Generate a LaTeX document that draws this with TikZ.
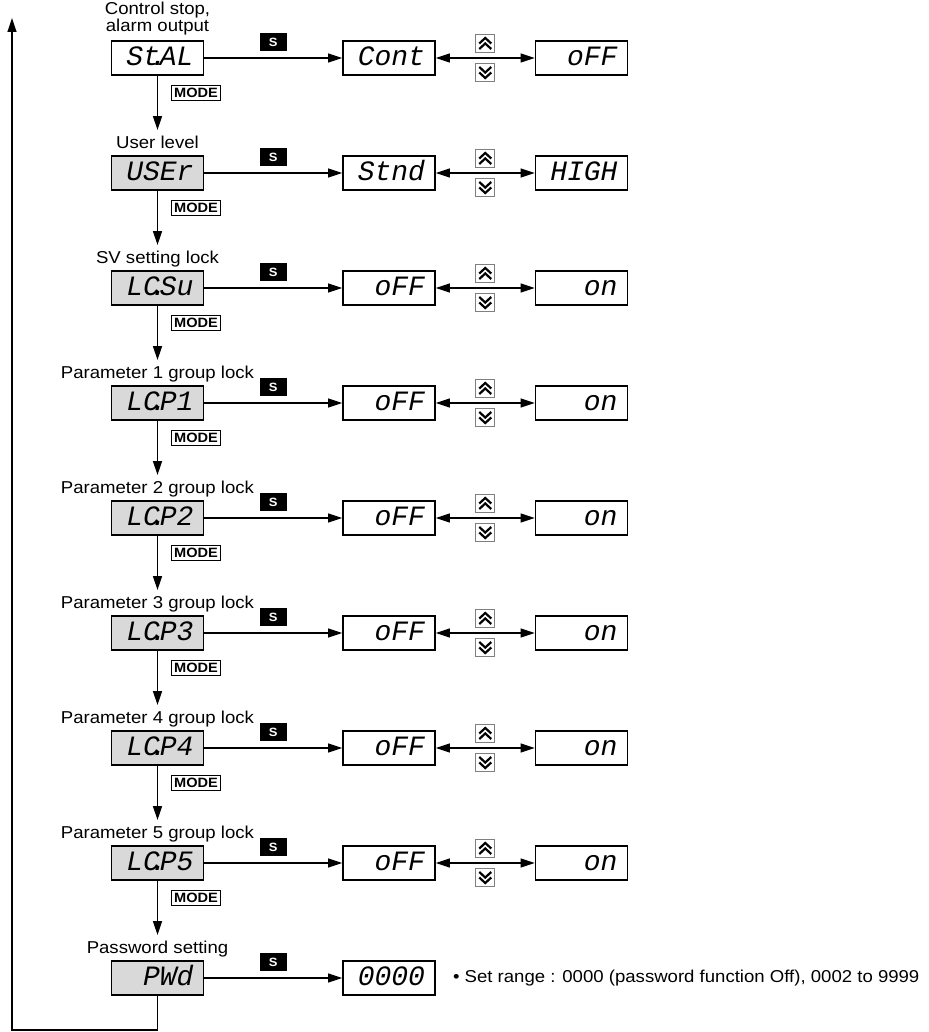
\documentclass[tikz,border=0pt]{standalone}
\usepackage{fontspec}
\setmainfont{Liberation Sans}[FakeStretch=1.08]
\newfontfamily\segfont{Liberation Mono}
\usetikzlibrary{arrows.meta,positioning,calc}
\definecolor{panelgray}{HTML}{D9D9D9}
\definecolor{keygray}{HTML}{7F7F7F}
\newcommand\segtxt{\segfont\itshape\fontsize{28}{28}\selectfont}
\newcommand\segdot{\kern-.35em.\kern-.25em}

\begin{document}
\begin{tikzpicture}[x=1pt,y=-1pt,
    flow/.style={line width=1.2pt,-{Triangle[length=14pt,width=9pt]}},
    both/.style={line width=1.2pt,{Triangle[length=14pt,width=9pt]}-{Triangle[length=14pt,width=9pt]}},
    disp/.style={draw,line width=1.6pt,fill=white,minimum width=92pt,minimum height=34pt,inner sep=0pt,
      text width=72pt,align=right,text height=16pt,text depth=1pt,font=\segtxt},
    dispg/.style={disp,fill=panelgray},
    lbl/.style={inner sep=0pt,font=\fontsize{17.2}{12}\selectfont},
    sbtn/.style={fill=black,text=white,inner sep=0pt,minimum width=27pt,minimum height=18pt,
      font=\bfseries\fontsize{12}{12}\selectfont},
    modebtn/.style={draw,line width=1pt,inner sep=1pt,minimum width=49pt,minimum height=15pt,
      font=\bfseries\fontsize{13.5}{13.5}\selectfont},
    keybtn/.style={draw=keygray,line width=1pt,fill=white,inner sep=0pt,minimum width=19pt,minimum height=18pt},
    chev/.style={line width=2.2pt,black}]
  \useasboundingbox (0,0) rectangle (928,1032);

  % display column
  \node[disp]  (l1) at (157.5,58)  {St\segdot AL};
  \node[dispg] (l2) at (157.5,173) {USEr};
  \node[dispg] (l3) at (157.5,288) {LC\segdot Su};
  \node[dispg] (l9) at (157.5,978) {PWd};
  \node[lbl,align=center,above=5pt of l1] (t1) {Control stop,\\alarm output};
  \node[lbl,above=6.5pt of l2,anchor=base] (t2) {User level};
  \node[lbl,above=6.5pt of l3,anchor=base] (t3) {SV setting lock};
  \node[lbl,above=6.5pt of l9,anchor=base] (t9) {Password setting};
  \node[disp] (m1) at (389,58)  {Cont};
  \node[disp] (r1) at (581.5,58)  {oFF};
  \node[disp] (m2) at (389,173) {Stnd};
  \node[disp] (r2) at (581.5,173) {HIGH};
  \node[disp] (m3) at (389,288) {oFF};
  \node[disp] (r3) at (581.5,288) {on};
  \node[disp] (m9) at (389,978) {0000};
  \node[lbl,right=17pt of m9] (note) {\textbullet\ Set range : 0000 (password function Off), 0002 to 9999};

  \foreach \p [evaluate=\p as \i using int(\p+3), evaluate=\p as \yy using 403+115*(\p-1)] in {1,...,5}{
    \node[dispg] (l\i) at (157.5,\yy) {LC\segdot P\p};
    \node[lbl,above=6.5pt of l\i,anchor=base] (t\i) {Parameter \p{} group lock};
    \node[disp] (m\i) at (389,\yy) {oFF};
    \node[disp] (r\i) at (581.5,\yy) {on};
  }

  % MODE steps and up/down keys
  \foreach \i [evaluate=\i as \j using int(\i+1)] in {1,...,8}{
    \draw[flow,shorten >=6pt] (l\i) -- (t\j);
    \node[modebtn,anchor=west] (mode\i) at ($(l\i.south)+(13.5,17)$) {MODE};
    \draw[both] (m\i) -- node[keybtn,above=5pt] (up\i) {} node[keybtn,below=5pt] (dn\i) {} (r\i);
    \draw[chev] ([shift={(-6pt,0pt)}]up\i.center) -- ++(6pt,5.5pt) -- ++(6pt,-5.5pt);
    \draw[chev] ([shift={(-6pt,-5.5pt)}]up\i.center) -- ++(6pt,5.5pt) -- ++(6pt,-5.5pt);
    \draw[chev] ([shift={(-6pt,0pt)}]dn\i.center) -- ++(6pt,-5.5pt) -- ++(6pt,5.5pt);
    \draw[chev] ([shift={(-6pt,5.5pt)}]dn\i.center) -- ++(6pt,-5.5pt) -- ++(6pt,5.5pt);
  }
  % S key
  \foreach \i in {1,...,9}{
    \draw[flow] (l\i) -- node[sbtn,above=6pt] (s\i) {S} (m\i);
  }

  % back to the top
  \coordinate (retbot) at (12,1030);
  \coordinate (rettop) at (12,18);
  \draw[flow] (l9.south) |- (retbot) -- (rettop);
\end{tikzpicture}
\end{document}
